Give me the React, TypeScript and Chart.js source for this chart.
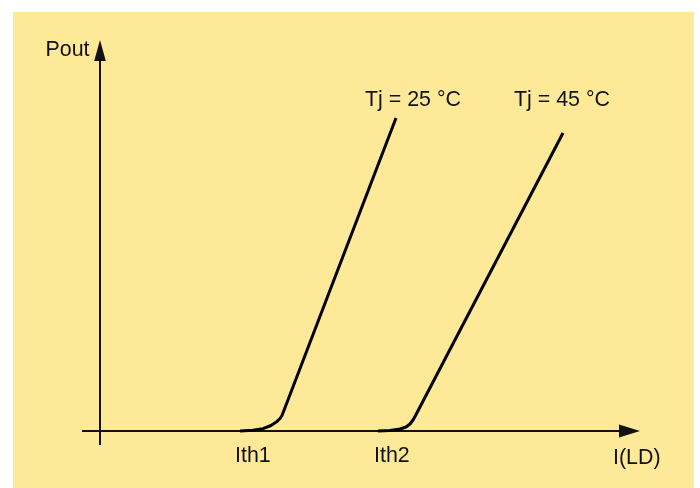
import React, { useEffect, useRef } from "react";
import { Chart, registerables } from "chart.js";

Chart.register(...registerables);

// Schematic L-I characteristic (arbitrary units)
const seriesLabels = ["Tj = 25 °C", "Tj = 45 °C"];
const current25 = [14.0, 15.3, 16.3, 17.1, 17.7, 18.0, 18.2, 29.6];
const power25 = [0, 0.07, 0.23, 0.55, 0.95, 1.25, 1.55, 31.3];
const current45 = [27.8, 29.0, 30.0, 30.6, 31.0, 31.3, 31.5, 46.3];
const power45 = [0, 0.05, 0.2, 0.4, 0.7, 1.1, 1.45, 29.8];
const thresholdLabels = ["Ith1", "Ith2"];
const axisLabels = ["I(LD)", "Pout"];

const FONT = '21.4px "Liberation Sans", Arial, sans-serif';
const INK = "#111111";

const toPoints = (xs: number[], ys: number[]) => xs.map((x, i) => ({ x, y: ys[i] }));

const decorPlugin = {
  id: "decor",
  beforeDraw(chart: any) {
    const { ctx, width, height } = chart;
    ctx.save();
    ctx.fillStyle = "#ffffff";
    ctx.fillRect(0, 0, width, height);
    ctx.fillStyle = "#FDE998";
    ctx.fillRect(13, 12, 681, height - 12);
    ctx.restore();
  },
  beforeDatasetsDraw(chart: any) {
    const { ctx } = chart;
    const xs = chart.scales.x;
    const ys = chart.scales.y;
    const ox = xs.getPixelForValue(0);
    const oy = ys.getPixelForValue(0);
    const xStart = xs.getPixelForValue(-1.8);
    const xEnd = xs.getPixelForValue(54);
    const yStart = ys.getPixelForValue(-1.4);
    const yEnd = ys.getPixelForValue(39.1);
    ctx.save();
    ctx.strokeStyle = INK;
    ctx.fillStyle = INK;
    ctx.lineWidth = 2;
    // horizontal axis
    ctx.beginPath();
    ctx.moveTo(xStart, oy);
    ctx.lineTo(xEnd - 18, oy);
    ctx.stroke();
    ctx.beginPath();
    ctx.moveTo(xEnd, oy);
    ctx.lineTo(xEnd - 21, oy - 6.5);
    ctx.lineTo(xEnd - 21, oy + 6.5);
    ctx.closePath();
    ctx.fill();
    // vertical axis
    ctx.beginPath();
    ctx.moveTo(ox, yStart);
    ctx.lineTo(ox, yEnd + 18);
    ctx.stroke();
    ctx.beginPath();
    ctx.moveTo(ox, yEnd);
    ctx.lineTo(ox - 5.8, yEnd + 21);
    ctx.lineTo(ox + 5.8, yEnd + 21);
    ctx.closePath();
    ctx.fill();
    ctx.restore();
  },
  afterDraw(chart: any) {
    const { ctx } = chart;
    const xs = chart.scales.x;
    const ys = chart.scales.y;
    const ox = xs.getPixelForValue(0);
    const oy = ys.getPixelForValue(0);
    ctx.save();
    ctx.fillStyle = INK;
    ctx.font = FONT;
    ctx.textBaseline = "alphabetic";
    // series labels near curve tops
    ctx.textAlign = "left";
    ctx.fillText(seriesLabels[0], 365, 106);
    ctx.fillText(seriesLabels[1], 514, 106);
    // threshold labels under curve starts
    ctx.fillText(thresholdLabels[0], xs.getPixelForValue(current25[0]) - 5, oy + 31);
    ctx.fillText(thresholdLabels[1], xs.getPixelForValue(current45[0]) - 4, oy + 31);
    // axis labels
    ctx.fillText(axisLabels[0], 613, oy + 33);
    ctx.textAlign = "right";
    ctx.fillText(axisLabels[1], ox - 10.5, 56);
    ctx.restore();
  },
};

export default function App() {
  const canvasRef = useRef<HTMLCanvasElement | null>(null);

  useEffect(() => {
    if (!canvasRef.current) return;
    const chart = new Chart(canvasRef.current, {
      type: "line",
      data: {
        datasets: [
          {
            label: seriesLabels[0],
            data: toPoints(current25, power25),
            borderColor: "#000000",
            borderWidth: 3,
            pointRadius: 0,
            tension: 0,
            fill: false,
            borderJoinStyle: "round",
          },
          {
            label: seriesLabels[1],
            data: toPoints(current45, power45),
            borderColor: "#000000",
            borderWidth: 3,
            pointRadius: 0,
            tension: 0,
            fill: false,
            borderJoinStyle: "round",
          },
        ],
      },
      options: {
        animation: false,
        responsive: false,
        maintainAspectRatio: false,
        layout: { padding: 0 },
        parsing: false as any,
        scales: {
          x: { type: "linear", min: -10, max: 60, display: false },
          y: { type: "linear", min: -5.7, max: 43.1, display: false },
        },
        plugins: {
          legend: { display: false },
          tooltip: { enabled: false },
        },
      },
      plugins: [decorPlugin],
    });
    return () => chart.destroy();
  }, []);

  return (
    <div style={{ position: "fixed", left: 0, top: 0, width: 700, height: 488 }}>
      <canvas ref={canvasRef} width={700} height={488} style={{ display: "block" }} />
    </div>
  );
}
